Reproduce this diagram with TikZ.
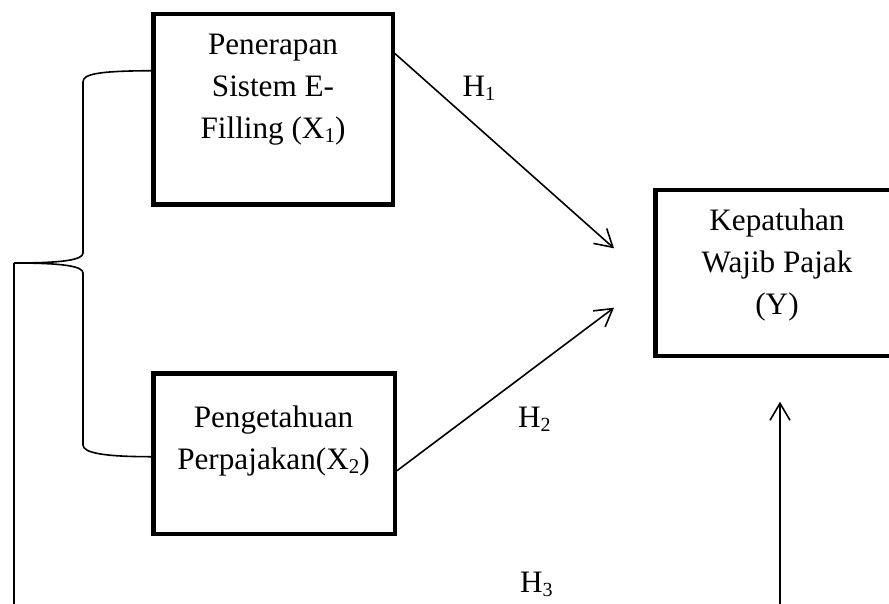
\documentclass[tikz,border=0pt]{standalone}
\usepackage{fontspec}
\setmainfont{Liberation Serif}
\usetikzlibrary{arrows.meta}
\newcommand{\mysub}[2]{\raisebox{-4pt}{\fontsize{#1}{#1}\selectfont #2}}
\begin{document}
\begin{tikzpicture}[x=1pt,y=-1pt,
  box/.style={draw,line width=4.5pt,inner sep=0pt},
  txt/.style={inner sep=0pt,anchor=base,font=\fontsize{31.2}{42}\selectfont},
  thin/.style={line width=1.6pt},
  arr/.style={thin,-{Straight Barb[length=17pt,width=20pt,line width=1.6pt]}}]
\useasboundingbox (0,0) rectangle (889,603);
\clip (0,0) rectangle (889,603);
% boxes
\node[box,minimum width=239.5pt,minimum height=190.7pt] (b1) at (273,109.1) {};
\node[box,minimum width=241.5pt,minimum height=160.5pt] (b2) at (274,453.5) {};
\node[box,minimum width=243.5pt,minimum height=166pt] (by) at (777,272.75) {};
% texts
\node[txt] (t1) at (273,54.6) {\parbox[t]{300pt}{\centering Penerapan\\Sistem E-\\Filling (X\mysub{21}{1})}};
\node[txt] (t2) at (273.5,427.2) {\parbox[t]{300pt}{\centering Pengetahuan\\Perpajakan(X\mysub{21}{2})}};
\node[txt] (ty) at (777,230.2) {\parbox[t]{300pt}{\centering Kepatuhan\\Wajib Pajak\\(Y)}};
\node[txt,anchor=base west] (h1) at (462.5,96) {H\mysub{20}{1}};
\node[txt,anchor=base west] (h2) at (518,427.7) {H\mysub{20}{2}};
\node[txt,anchor=base west] (h3) at (520,592.3) {H\mysub{20}{3}};
% coordinates
\coordinate (h1e) at (614,248.3);
\coordinate (h2e) at (614,307.7);
\coordinate (tip) at (14,263);
\coordinate (bl) at (14,615);
\coordinate (ub) at (780,615);
\coordinate (ut) at (780,401.7);
% arrows
\draw[arr] ([yshift=-42.1pt]b1.north east) -- (h1e);
\draw[arr] ([yshift=-17.2pt]b2.east) -- (h2e);
\draw[arr] (ub) -- (ut);
% brace
\draw[thin] ([yshift=-59.2pt]b1.north west) .. controls (98,71) and (83,74) .. (83,82)
  -- (83,253) .. controls (83,260) and (62,263) .. (tip)
  .. controls (62,263) and (83,266) .. (83,273)
  -- (83,445) .. controls (83,453) and (105,456.7) .. ([yshift=-3.2pt]b2.west);
\draw[thin] (tip) -- (bl);
\end{tikzpicture}
\end{document}
